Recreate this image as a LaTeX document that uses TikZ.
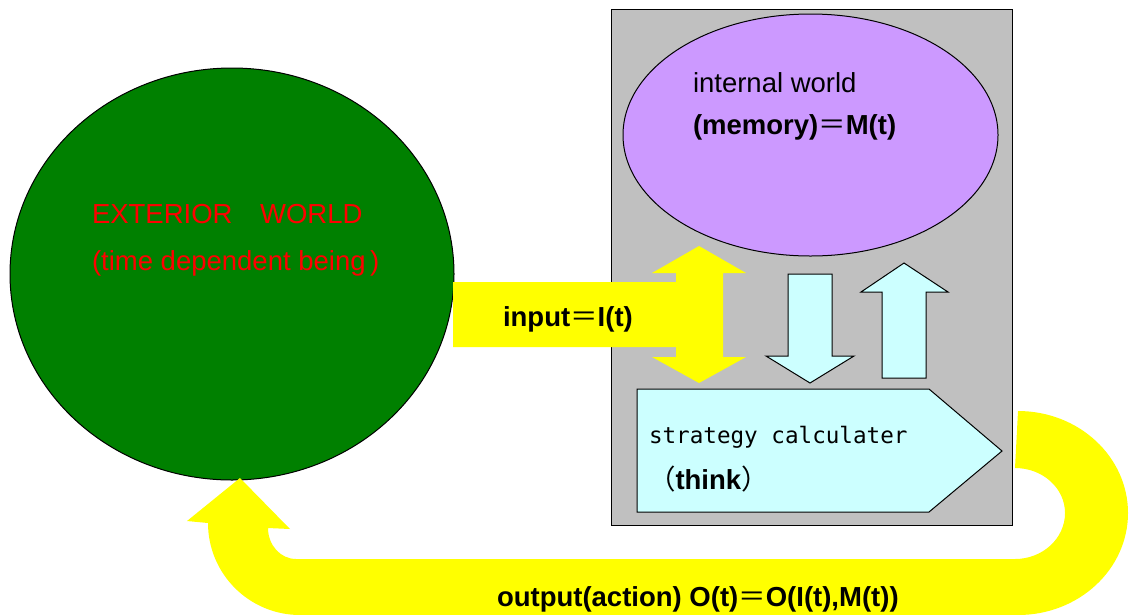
\documentclass[tikz,border=0pt]{standalone}
\usepackage{fontspec}
\setmainfont{Liberation Sans}
\newfontfamily\cjk{Noto Sans CJK JP}
\newfontfamily\monof{DejaVu Sans Mono}
\usetikzlibrary{shapes.geometric}
\definecolor{exgreen}{HTML}{008000}
\definecolor{boxgray}{HTML}{C0C0C0}
\definecolor{memviolet}{HTML}{CC99FF}
\definecolor{thinkcyan}{HTML}{CCFFFF}
\definecolor{flowyellow}{HTML}{FFFF00}
\definecolor{exred}{HTML}{FF0000}
\newcommand{\fweq}{{\cjk\mdseries ＝}}
\tikzset{
  outline/.style={draw=black, line width=1pt},
  bigtext/.style={font=\fontsize{27.5}{33}\selectfont, anchor=base west, inner sep=0pt, outer sep=0pt},
  monotext/.style={font=\monof\fontsize{22.6}{27}\selectfont, anchor=base west, inner sep=0pt, outer sep=0pt},
  yellowflow/.style={fill=flowyellow, draw=none},
  cyanarrow/.style={outline, fill=thinkcyan, line join=miter},
}
\begin{document}
\begin{tikzpicture}[x=1pt,y=-1pt]
\useasboundingbox (0,0) rectangle (1131,614);
% exterior world
\node[outline, fill=exgreen, ellipse, minimum width=444pt, minimum height=412pt, inner sep=0pt] (ext) at (232,274) {};
\node[bigtext, text=exred] (extA) at (92,223) {EXTERIOR{\cjk　}WORLD};
\node[bigtext, text=exred] (extB) at (92,270) {(time dependent being\,)};
% agent box
\node[outline, fill=boxgray, minimum width=401pt, minimum height=516pt, anchor=north west, inner sep=0pt] (agent) at (611,9) {};
\node[outline, fill=memviolet, ellipse, minimum width=375pt, minimum height=242pt, inner sep=0pt] (mem) at (810.5,135) {};
\node[bigtext] (memA) at (693,92) {internal world};
\node[bigtext] (memB) at (693,134) {\bfseries (memory)\fweq M(t)};
% input arrow
\path[yellowflow] (453,282) -- (676,282) -- (676,273) -- (652,273) -- (699,246) -- (746,273) -- (723,273) -- (723,357) -- (746,357) -- (699,383) -- (652,357) -- (676,357) -- (676,347) -- (453,347) -- cycle;
\node[bigtext] (inp) at (503,326) {\bfseries input\fweq I(t)};
% down / up arrows
\draw[cyanarrow] (788,274) -- (832,274) -- (832,356) -- (854,356) -- (810,383) -- (766,356) -- (788,356) -- cycle;
\draw[cyanarrow] (904,263) -- (948,292) -- (926,292) -- (926,378) -- (882,378) -- (882,292) -- (861,292) -- cycle;
% strategy calculator
\draw[cyanarrow] (637,389) -- (929,389) -- (1002,451) -- (929,512) -- (637,512) -- cycle;
\node[monotext] (stA) at (649,443) {strategy calculater};
\node[bigtext] (stB) at (648,489) {{\cjk （}{\bfseries think}{\cjk ）}};
% output arrow
\path[yellowflow] (1018,411) .. controls (1078.8,411) and (1128,456.7) .. (1128,513)
  .. controls (1128,569.3) and (1078.8,615) .. (1018,615)
  -- (300,615)
  .. controls (249.2,615) and (208,573.8) .. (208,523)
  -- (187,521) -- (240,478) -- (290,529) -- (268,528)
  .. controls (268,545.1) and (280.5,559) .. (296,559)
  -- (1015,559)
  .. controls (1042.6,559) and (1065,538.4) .. (1065,513)
  .. controls (1065,488.1) and (1042.6,468) .. (1015,468)
  -- cycle;
\node[bigtext] (outp) at (497,606) {\bfseries output(action) O(t)\fweq O(I(t),M(t))};
\end{tikzpicture}
\end{document}
